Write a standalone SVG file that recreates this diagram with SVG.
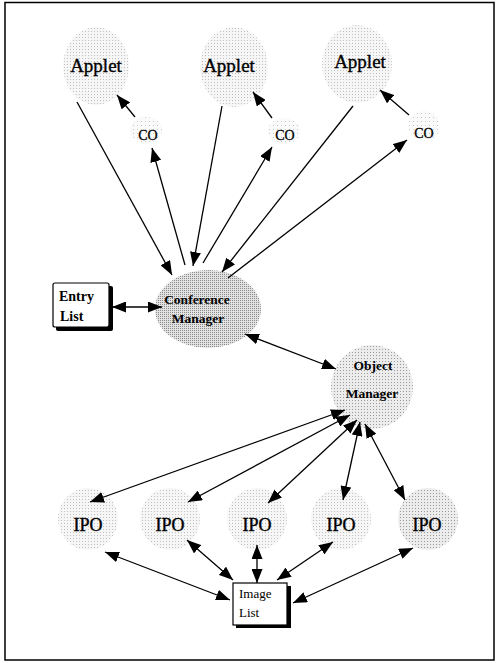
<svg xmlns="http://www.w3.org/2000/svg" width="497" height="663" viewBox="0 0 497 663">
<defs>
<style>
.lbl{font-family:"Liberation Serif","Times New Roman",serif;fill:#000}
.cloud{stroke:none}
.c1{fill:url(#dotsL)}
.c2{fill:url(#dotsXL)}
.c4{fill:url(#dotsM)}
.c5{fill:url(#dotsL)}
.conn line{stroke:#000;stroke-width:1.3;fill:none}
.box{fill:#fff;stroke:#000;stroke-width:1.2}
.shadow{fill:#000}
.ap{font-size:19px;stroke:#000;stroke-width:0.35}
</style>
<pattern id="dotsXL" width="4" height="4" patternUnits="userSpaceOnUse">
<rect width="4" height="4" fill="#fafafa"/><rect x="1" y="1" width="1" height="1" fill="#c8c8c8"/>
</pattern>
<pattern id="dotsL" width="3" height="3" patternUnits="userSpaceOnUse">
<rect width="3" height="3" fill="#f6f6f6"/><rect x="1" y="1" width="1" height="1" fill="#c0c0c0"/>
</pattern>
<pattern id="dotsM" width="3" height="3" patternUnits="userSpaceOnUse">
<rect width="3" height="3" fill="#ececec"/><rect x="1" y="1" width="1" height="1" fill="#9a9a9a"/>
</pattern>
<pattern id="dotsD" width="2" height="2" patternUnits="userSpaceOnUse">
<rect width="2" height="2" fill="#e2e2e2"/><rect x="0" y="0" width="1" height="1" fill="#8a8a8a"/>
</pattern>
<marker id="ah" markerUnits="userSpaceOnUse" markerWidth="15" markerHeight="11" refX="14" refY="5.5" orient="auto-start-reverse" viewBox="0 0 15 11">
<path d="M0,0 L14,5.5 L0,11 z" fill="#000"/>
</marker>
</defs>
<rect x="0" y="0" width="497" height="663" fill="#fff"/>
<rect x="5" y="2.5" width="489" height="657.5" fill="none" stroke="#000" stroke-width="1.5"/>

<g id="applet1"><ellipse class="cloud c1" cx="96" cy="66" rx="33" ry="39"/><text class="lbl ap" x="96" y="72" text-anchor="middle">Applet</text></g>
<g id="applet2"><ellipse class="cloud c1" cx="234" cy="67" rx="34" ry="40"/><text class="lbl ap" x="229" y="72" text-anchor="middle">Applet</text></g>
<g id="applet3"><ellipse class="cloud c1" cx="357" cy="64" rx="35" ry="39"/><text class="lbl ap" x="360" y="68" text-anchor="middle">Applet</text></g>

<g id="co1"><ellipse class="cloud c2" cx="146" cy="130" rx="16" ry="13"/><text class="lbl" x="148" y="140" font-size="14" stroke="#000" stroke-width="0.3" text-anchor="middle">CO</text></g>
<g id="co2"><ellipse class="cloud c2" cx="284" cy="131" rx="16" ry="13"/><text class="lbl" x="285" y="140" font-size="14" stroke="#000" stroke-width="0.3" text-anchor="middle">CO</text></g>
<g id="co3"><ellipse class="cloud c2" cx="424" cy="126" rx="16" ry="15"/><text class="lbl" x="424" y="138" font-size="14" stroke="#000" stroke-width="0.3" text-anchor="middle">CO</text></g>

<g id="conference-manager"><ellipse class="cloud" fill="url(#dotsD)" cx="208" cy="309" rx="53" ry="39"/><text class="lbl" x="197" y="304" font-size="13.5" font-weight="bold" text-anchor="middle">Conference</text><text class="lbl" x="198" y="323" font-size="13.5" font-weight="bold" text-anchor="middle">Manager</text></g>

<g id="entry-list"><rect class="shadow" x="56" y="286" width="57" height="45" rx="2"/><rect class="box" x="53" y="283" width="56" height="44" rx="2"/><text class="lbl" x="59" y="301" font-size="14" font-weight="bold">Entry</text><text class="lbl" x="60" y="321" font-size="14" font-weight="bold">List</text></g>

<g id="object-manager"><ellipse class="cloud c4" cx="372" cy="387" rx="41" ry="42"/><text class="lbl" x="373" y="370" font-size="13.5" font-weight="bold" text-anchor="middle">Object</text><text class="lbl" x="372" y="398" font-size="13.5" font-weight="bold" text-anchor="middle">Manager</text></g>

<g id="ipo1"><ellipse class="cloud c5" cx="88" cy="519" rx="30" ry="31"/><text class="lbl" x="88" y="531" font-size="18" stroke="#000" stroke-width="0.4" text-anchor="middle">IPO</text></g>
<g id="ipo2"><ellipse class="cloud c5" cx="170" cy="519" rx="30" ry="31"/><text class="lbl" x="170" y="531" font-size="18" stroke="#000" stroke-width="0.4" text-anchor="middle">IPO</text></g>
<g id="ipo3"><ellipse class="cloud c5" cx="257" cy="519" rx="30" ry="31"/><text class="lbl" x="257" y="531" font-size="18" stroke="#000" stroke-width="0.4" text-anchor="middle">IPO</text></g>
<g id="ipo4"><ellipse class="cloud c5" cx="341" cy="519" rx="30" ry="31"/><text class="lbl" x="341" y="531" font-size="18" stroke="#000" stroke-width="0.4" text-anchor="middle">IPO</text></g>
<g id="ipo5"><ellipse class="cloud c4" cx="428" cy="519" rx="30" ry="31"/><text class="lbl" x="427" y="531" font-size="18" stroke="#000" stroke-width="0.4" text-anchor="middle">IPO</text></g>

<g id="image-list"><rect class="shadow" x="236" y="586" width="55" height="42"/><rect class="box" x="233" y="583" width="54" height="42"/><text class="lbl" x="239" y="598" font-size="13">Image</text><text class="lbl" x="239" y="617" font-size="13">List</text></g>

<g id="connectors" class="conn">
<line x1="77" y1="102" x2="172" y2="275" marker-end="url(#ah)"/>
<line x1="185" y1="265" x2="152" y2="148" marker-end="url(#ah)"/>
<line x1="135" y1="117" x2="117" y2="95" marker-end="url(#ah)"/>
<line x1="222" y1="106" x2="193" y2="266" marker-end="url(#ah)"/>
<line x1="203" y1="263" x2="272" y2="147" marker-end="url(#ah)"/>
<line x1="272" y1="118" x2="253" y2="92" marker-end="url(#ah)"/>
<line x1="353" y1="106" x2="222" y2="272" marker-end="url(#ah)"/>
<line x1="228" y1="278" x2="407" y2="140" marker-end="url(#ah)"/>
<line x1="409" y1="115" x2="380" y2="90" marker-end="url(#ah)"/>
<line x1="112" y1="307" x2="162" y2="307" marker-start="url(#ah)" marker-end="url(#ah)"/>
<line x1="245" y1="334" x2="336" y2="369" marker-start="url(#ah)" marker-end="url(#ah)"/>
<line x1="345" y1="410" x2="90" y2="502" marker-start="url(#ah)" marker-end="url(#ah)"/>
<line x1="350" y1="415" x2="188" y2="502" marker-start="url(#ah)" marker-end="url(#ah)"/>
<line x1="357" y1="420" x2="268" y2="503" marker-start="url(#ah)" marker-end="url(#ah)"/>
<line x1="360" y1="422" x2="343" y2="500" marker-start="url(#ah)" marker-end="url(#ah)"/>
<line x1="365" y1="424" x2="405" y2="500" marker-start="url(#ah)" marker-end="url(#ah)"/>
<line x1="105" y1="552" x2="230" y2="600" marker-start="url(#ah)" marker-end="url(#ah)"/>
<line x1="187" y1="540" x2="233" y2="580" marker-start="url(#ah)" marker-end="url(#ah)"/>
<line x1="257" y1="545" x2="257" y2="583" marker-start="url(#ah)" marker-end="url(#ah)"/>
<line x1="333" y1="542" x2="277" y2="580" marker-start="url(#ah)" marker-end="url(#ah)"/>
<line x1="413" y1="548" x2="293" y2="603" marker-start="url(#ah)" marker-end="url(#ah)"/>
</g>
</svg>
